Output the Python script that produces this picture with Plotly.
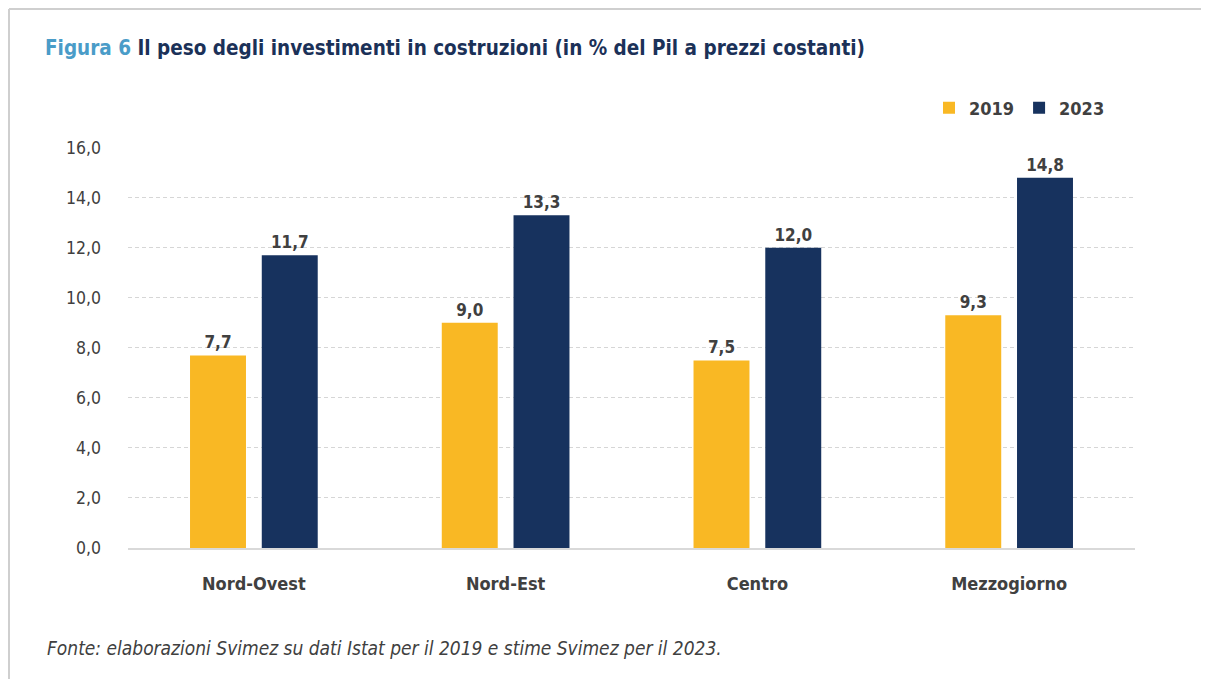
import plotly.graph_objects as go

categories = ["Nord-Ovest", "Nord-Est", "Centro", "Mezzogiorno"]
values_2019 = [7.7, 9.0, 7.5, 9.3]
values_2023 = [11.7, 13.3, 12.0, 14.8]
series_names = ["2019", "2023"]
y_ticks = [0, 2, 4, 6, 8, 10, 12, 14, 16]

FONT = "DejaVu Sans Condensed, Liberation Sans Narrow, Roboto, sans-serif"
YELLOW = "#F9B824"
NAVY = "#17325E"
TEXT = "#404040"

# page body has an 8px margin: compensate so the plot lands where the reference has it
OFF = 8
PL, PR, PT, PB = 128, 1135, 147, 548  # plot area in screen px (reference)
W, H = 1209, 679
PW, PH = PR - PL, PB - PT

def px(x):  # screen x -> paper
    return (x - PL) / PW

def py(y):  # screen y -> paper
    return (PB - y) / PH

fig = go.Figure()
for name, vals, col in [(series_names[0], values_2019, YELLOW), (series_names[1], values_2023, NAVY)]:
    fig.add_trace(go.Bar(
        x=categories, y=vals, name=name, marker_color=col, marker_line_width=0,
        texttemplate="<b>%{y:.1f}</b>", textposition="outside", cliponaxis=False,
        textfont=dict(family=FONT, size=17, color=TEXT),
    ))

fig.update_layout(
    width=W, height=H,
    separators=",.",
    paper_bgcolor="white", plot_bgcolor="white",
    margin=dict(l=PL - OFF, r=W - PR + OFF, t=PT - OFF, b=H - PB + OFF),
    barmode="group", bargap=0.43, bargroupgap=0.22,
    font=dict(family=FONT, color=TEXT),
    showlegend=True,
    legend=dict(orientation="h", x=px(1110), xanchor="right", y=py(108), yanchor="middle",
                font=dict(family=FONT, size=18, color=TEXT, weight="bold"),
                itemwidth=30, traceorder="normal", itemsizing="constant"),
    title=dict(
        text="<b><span style='color:#4A9CC8'>Figura 6</span> Il peso degli investimenti in costruzioni (in % del Pil a prezzi costanti)</b>",
        x=(45 - OFF) / W, xref="container", xanchor="left",
        y=1 - (48 - OFF) / H, yref="container", yanchor="middle",
        font=dict(family=FONT, size=20.5, color="#1B3158"),
    ),
)
fig.update_xaxes(
    showline=True, linecolor="#D9D9D9", linewidth=2, ticks="",
    tickfont=dict(family=FONT, size=18, color=TEXT, weight="bold"),
    ticklabelstandoff=18,
)
fig.update_yaxes(
    range=[0, 16.03], tickvals=y_ticks, tickformat=".1f",
    showgrid=True, gridcolor="#D6D6D6", griddash="4px,3px", gridwidth=1,
    zeroline=False, showline=False, ticks="",
    tickfont=dict(family=FONT, size=17.5, color=TEXT),
    ticklabelstandoff=26,
)
fig.add_annotation(
    text="<i>Fonte: elaborazioni Svimez su dati Istat per il 2019 e stime Svimez per il 2023.</i>",
    xref="paper", yref="paper", x=px(45), y=py(648),
    xanchor="left", yanchor="middle", showarrow=False,
    font=dict(family=FONT, size=19, color=TEXT),
)
# frame lines (top and left)
fig.add_shape(type="line", xref="paper", yref="paper",
              x0=px(9), x1=px(W), y0=py(9), y1=py(9),
              line=dict(color="#CFCFCF", width=2))
fig.add_shape(type="line", xref="paper", yref="paper",
              x0=px(9), x1=px(9), y0=py(9), y1=py(H),
              line=dict(color="#CFCFCF", width=2))

fig.write_html("out.html")
